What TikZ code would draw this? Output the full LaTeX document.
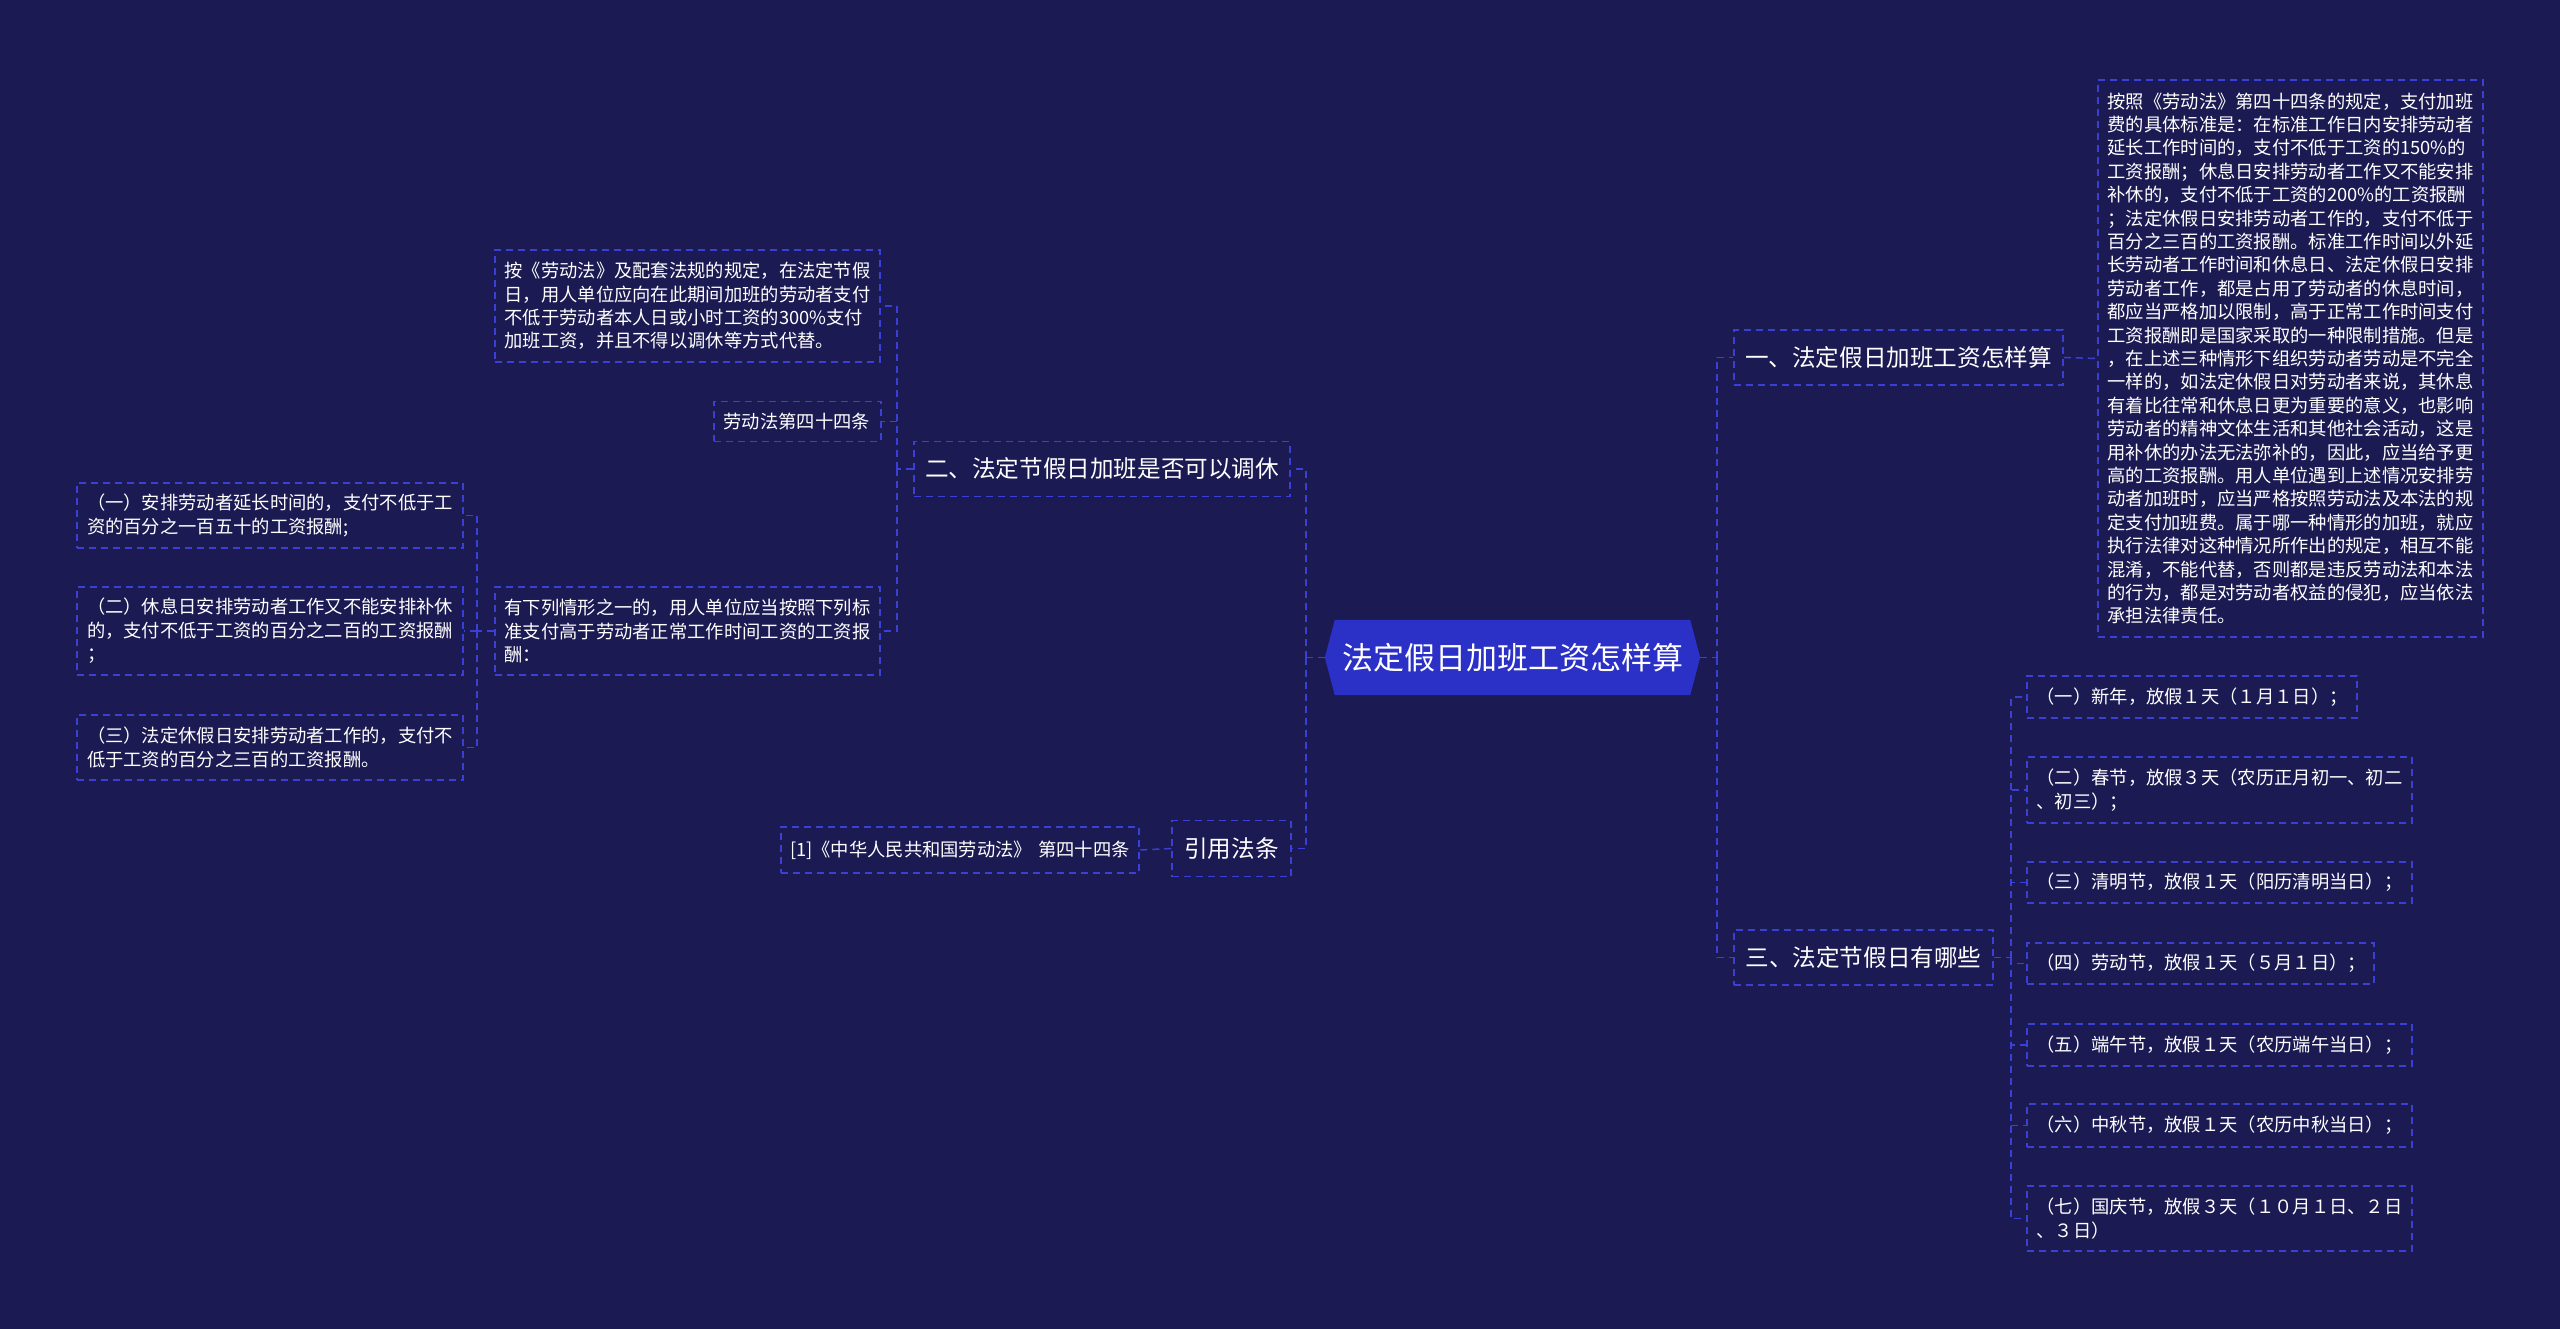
\documentclass[tikz,border=0pt]{standalone}
\usepackage{fontspec}
\newfontfamily\cjk{Noto Sans CJK SC}
\usetikzlibrary{backgrounds}
\definecolor{bgc}{HTML}{1B1A52}
\definecolor{dashc}{HTML}{3A3FD6}
\definecolor{hexc}{HTML}{2B30C6}
\begin{document}
\begin{tikzpicture}[x=1pt,y=-1pt,
  dashline/.style={draw=dashc, line width=1.5pt, dash pattern=on 7pt off 5pt},
  leaf/.style={dashline, text=white, font=\cjk\fontsize{18.3}{23.4}\selectfont, inner sep=0pt, align=left},
  lvl/.style={dashline, text=white, font=\cjk\fontsize{23.6}{28}\selectfont, inner sep=0pt},
  sz/.style n args={3}{minimum width=#1pt, minimum height=#2pt, text width=#3pt},
]
\useasboundingbox (0,0) rectangle (2560,1329);

% center
\node[text=white, font=\cjk\fontsize{31}{36}\selectfont, minimum width=375pt, minimum height=75pt, inner sep=0pt] (c) at (1512.5,657.5) {法定假日加班工资怎样算};

\begin{scope}[on background layer]
\fill[bgc] (0,0) rectangle (2560,1329);
\fill[hexc] (c.west) -- ([xshift=10pt]c.north west) -- ([xshift=-10pt]c.north east) -- (c.east) -- ([xshift=-10pt]c.south east) -- ([xshift=10pt]c.south west) -- cycle;
\end{scope}

% level 1
\node[lvl, minimum width=329pt, minimum height=55pt] (n1) at (1898.5,357.5) {一、法定假日加班工资怎样算};
\node[lvl, minimum width=376pt, minimum height=55pt] (n2) at (1102,469) {二、法定节假日加班是否可以调休};
\node[lvl, minimum width=119pt, minimum height=56pt] (n3) at (1231.5,848.5) {引用法条};
\node[lvl, minimum width=259pt, minimum height=55pt] (n4) at (1863.5,957.5) {三、法定节假日有哪些};

% right paragraph
\node[leaf, sz={385}{557}{366}] (para) at (2290.5,358.5) {按照《劳动法》第四十四条的规定，支付加班\\费的具体标准是：在标准工作日内安排劳动者\\延长工作时间的，支付不低于工资的150\%的\\工资报酬；休息日安排劳动者工作又不能安排\\补休的，支付不低于工资的200\%的工资报酬\\；法定休假日安排劳动者工作的，支付不低于\\百分之三百的工资报酬。标准工作时间以外延\\长劳动者工作时间和休息日、法定休假日安排\\劳动者工作，都是占用了劳动者的休息时间，\\都应当严格加以限制，高于正常工作时间支付\\工资报酬即是国家采取的一种限制措施。但是\\，在上述三种情形下组织劳动者劳动是不完全\\一样的，如法定休假日对劳动者来说，其休息\\有着比往常和休息日更为重要的意义，也影响\\劳动者的精神文体生活和其他社会活动，这是\\用补休的办法无法弥补的，因此，应当给予更\\高的工资报酬。用人单位遇到上述情况安排劳\\动者加班时，应当严格按照劳动法及本法的规\\定支付加班费。属于哪一种情形的加班，就应\\执行法律对这种情况所作出的规定，相互不能\\混淆，不能代替，否则都是违反劳动法和本法\\的行为，都是对劳动者权益的侵犯，应当依法\\承担法律责任。};

% holidays
\node[leaf, sz={330}{42}{311}] (h1) at (2192,697) {（一）新年，放假１天（１月１日）；};
\node[leaf, sz={385}{66}{366}] (h2) at (2219.5,790) {（二）春节，放假３天（农历正月初一、初二\\、初三）；};
\node[leaf, sz={385}{41}{366}] (h3) at (2219.5,882.5) {（三）清明节，放假１天（阳历清明当日）；};
\node[leaf, sz={347}{41}{328}] (h4) at (2200.5,963.5) {（四）劳动节，放假１天（５月１日）；};
\node[leaf, sz={385}{42}{366}] (h5) at (2219.5,1045) {（五）端午节，放假１天（农历端午当日）；};
\node[leaf, sz={385}{43}{366}] (h6) at (2219.5,1125.5) {（六）中秋节，放假１天（农历中秋当日）；};
\node[leaf, sz={385}{65}{366}] (h7) at (2219.5,1218.5) {（七）国庆节，放假３天（１０月１日、２日\\、３日）};

% left side
\node[leaf, sz={385}{112}{366}] (p1) at (687.5,306) {按《劳动法》及配套法规的规定，在法定节假\\日，用人单位应向在此期间加班的劳动者支付\\不低于劳动者本人日或小时工资的300\%支付\\加班工资，并且不得以调休等方式代替。};
\node[leaf, sz={167}{40}{148}] (law) at (797.5,421.5) {劳动法第四十四条};
\node[leaf, sz={385}{88}{366}] (p2) at (687.5,631) {有下列情形之一的，用人单位应当按照下列标\\准支付高于劳动者正常工作时间工资的工资报\\酬：};
\node[leaf, sz={358}{46}{340}] (ref) at (960,850) {[1]《中华人民共和国劳动法》 第四十四条};

\node[leaf, sz={386}{65}{366}] (a1) at (270,515.5) {（一）安排劳动者延长时间的，支付不低于工\\资的百分之一百五十的工资报酬;};
\node[leaf, sz={386}{88}{366}] (a2) at (270,631) {（二）休息日安排劳动者工作又不能安排补休\\的，支付不低于工资的百分之二百的工资报酬\\；};
\node[leaf, sz={386}{65}{366}] (a3) at (270,747.5) {（三）法定休假日安排劳动者工作的，支付不\\低于工资的百分之三百的工资报酬。};

% connectors
\coordinate (bl) at (1306,657.5);
\coordinate (br) at (1717,657.5);
\coordinate (b2) at (897,469);
\coordinate (bp2) at (477,631);
\coordinate (b4) at (2011,957.5);

\draw[dashline] (c.west) -- (bl);
\draw[dashline] (bl) |- (n2.east);
\draw[dashline] (bl) |- (n3.east);
\draw[dashline] (c.east) -- (br);
\draw[dashline] (br) |- (n1.west);
\draw[dashline] (br) |- (n4.west);

\draw[dashline] (n1.east) -- (para.west);

\draw[dashline] (n2.west) -- (b2);
\draw[dashline] (b2) |- (p1.east);
\draw[dashline] (b2) |- (law.east);
\draw[dashline] (b2) |- (p2.east);

\draw[dashline] (n3.west) -- (ref.east);

\draw[dashline] (p2.west) -- (bp2);
\draw[dashline] (bp2) |- (a1.east);
\draw[dashline] (bp2) |- (a2.east);
\draw[dashline] (bp2) |- (a3.east);

\draw[dashline] (n4.east) -- (b4);
\foreach \h in {h1,h2,h3,h4,h5,h6,h7} {
  \draw[dashline] (b4) |- (\h.west);
}
\end{tikzpicture}
\end{document}
